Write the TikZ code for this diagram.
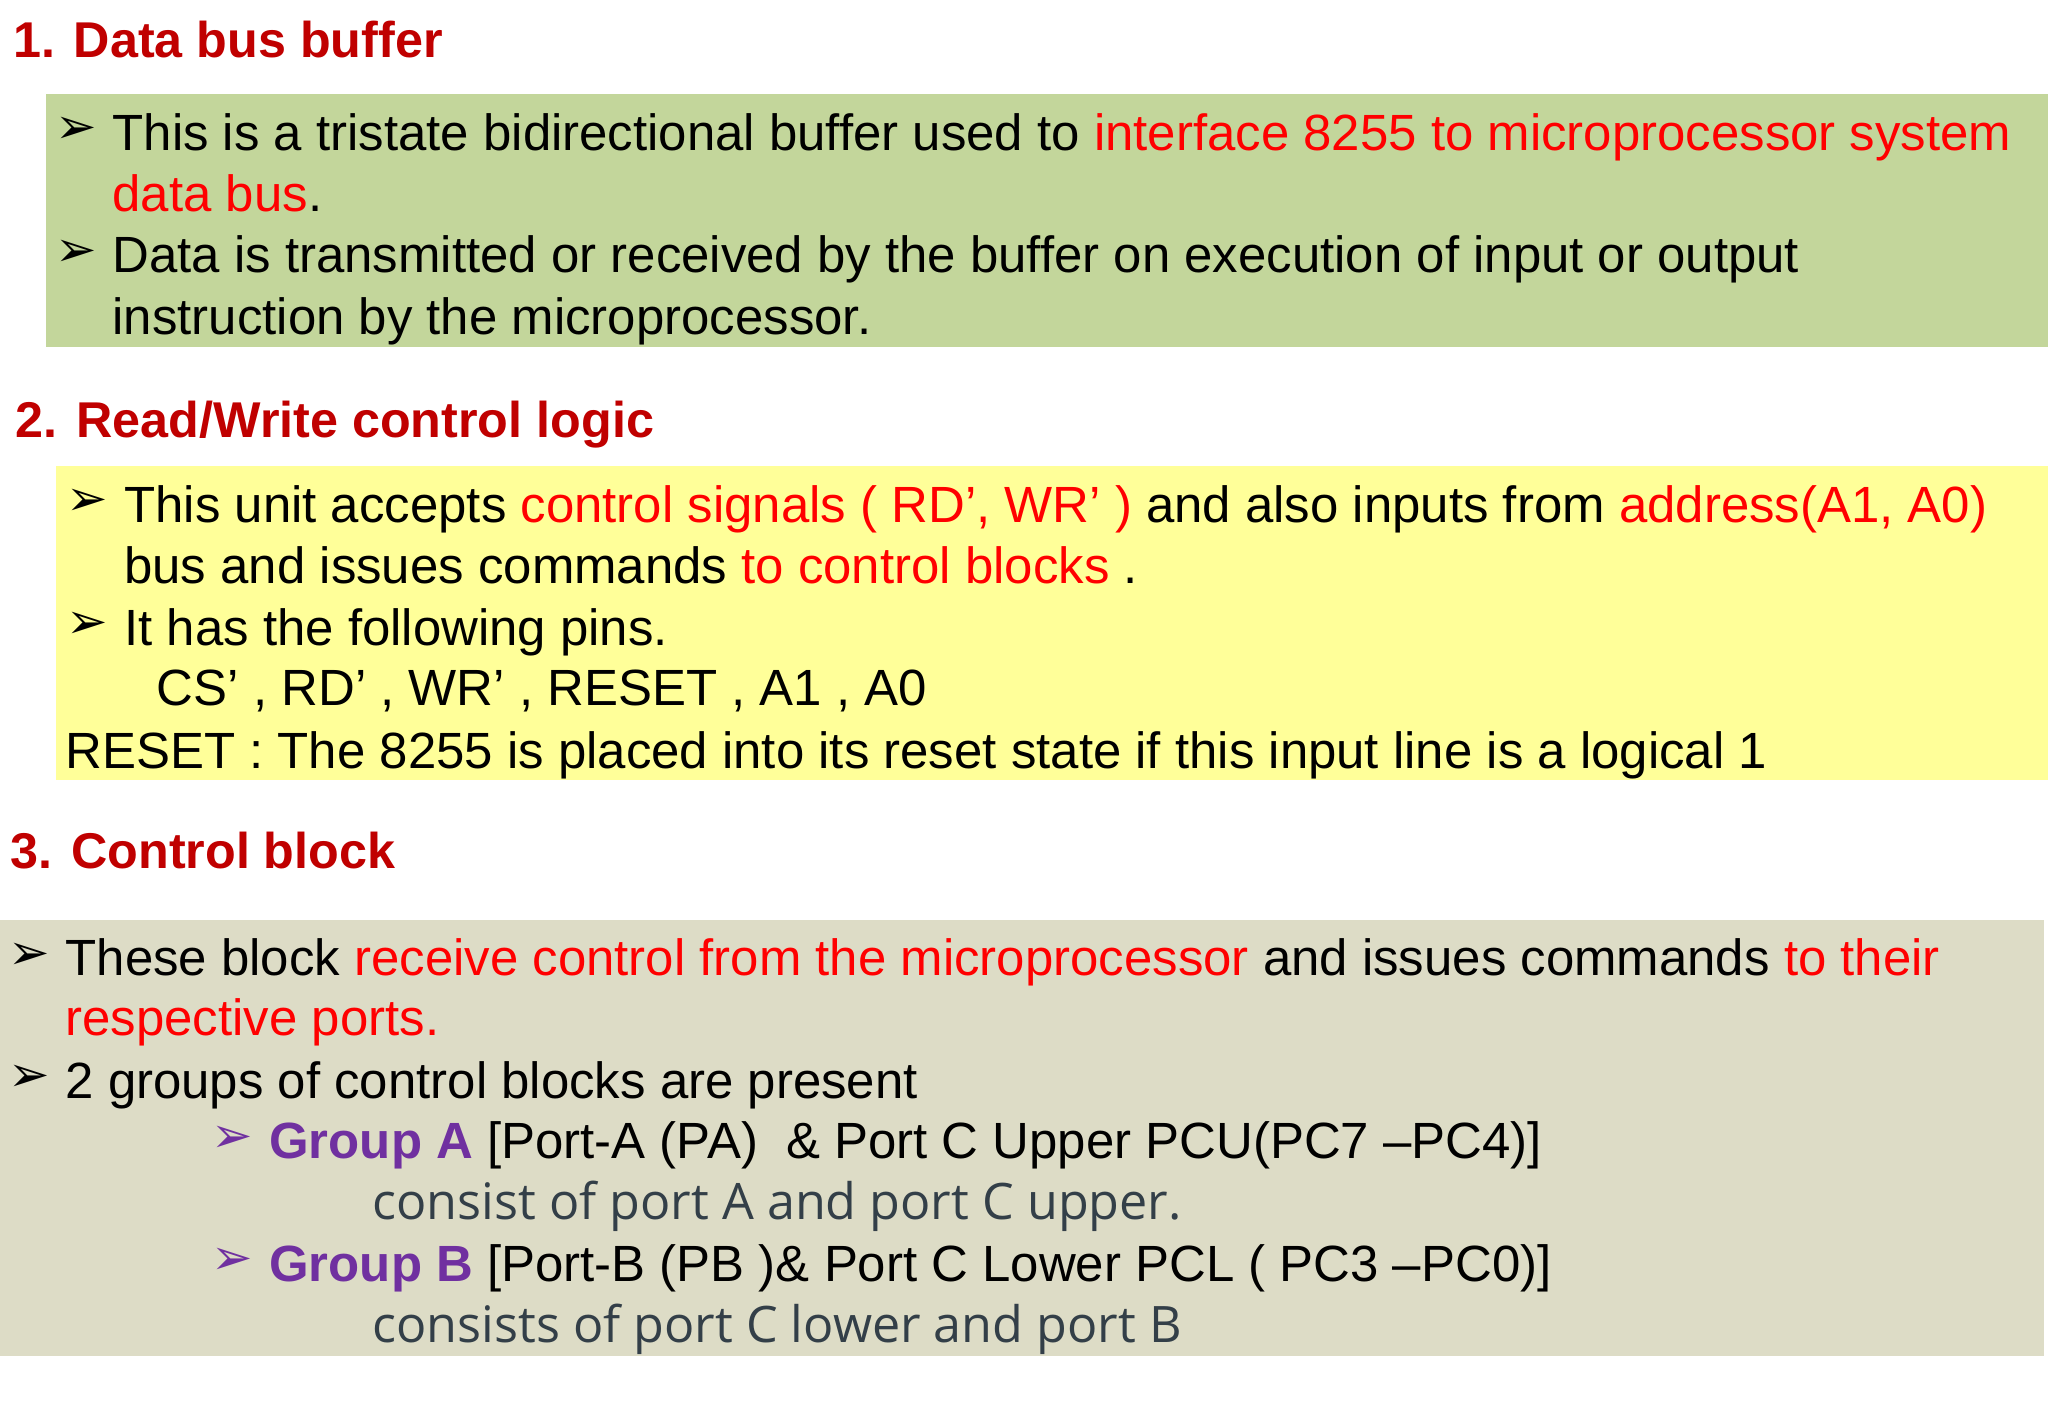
\documentclass[tikz,border=0pt]{standalone}
\usepackage{fontspec}
\setmainfont{Liberation Sans}
\newfontfamily\dejavu{DejaVu Sans}
\newfontfamily\opens{Open Sans}
\definecolor{hd}{HTML}{C00000}
\definecolor{rd}{HTML}{FF0000}
\definecolor{pu}{HTML}{7030A0}
\definecolor{gbox}{HTML}{C3D69B}
\definecolor{ybox}{HTML}{FFFF99}
\definecolor{bbox}{HTML}{DDDCC6}
\definecolor{gtx}{HTML}{333F48}
\tikzset{x=1pt,y=-1pt,
 tx/.style={anchor=base west,inner sep=0pt,font=\fontsize{39}{44}\selectfont},
 hdg/.style={anchor=base west,inner sep=0pt,font=\fontsize{38.5}{44}\selectfont\bfseries,text=hd},
 bul/.style={anchor=base west,inner sep=0pt,font=\fontsize{38}{40}\selectfont\dejavu}}
\begin{document}
\begin{tikzpicture}
\useasboundingbox[fill=white] (0,0) rectangle (1568,1083);
\fill[gbox] (35,72) rectangle (1568,266);
\fill[ybox] (43,357) rectangle (1568,597);
\fill[bbox] (0,704) rectangle (1565,1038);
\node[hdg] (h1) at (10,44) {1. Data bus buffer};
\node[bul] (b1) at (42,110) {➢};
\node[tx] (t1) at (86,115) {This is a tristate bidirectional buffer used to \textcolor{rd}{interface 8255 to microprocessor system}};
\node[tx] (t2) at (86,162) {\textcolor{rd}{data bus}.};
\node[bul] (b2) at (42,204) {➢};
\node[tx] (t3) at (86,209) {Data is transmitted or received by the buffer on execution of input or output};
\node[tx] (t4) at (86,256) {instruction by the microprocessor.};
\node[hdg] (h2) at (12,335) {2. Read/Write control logic};
\node[bul] (b3) at (51,395) {➢};
\node[tx] (t5) at (95,400) {This unit accepts \textcolor{rd}{control signals ( RD’, WR’ )} and also inputs from \textcolor{rd}{address(A1, A0)}};
\node[tx] (t6) at (95,447) {bus and issues commands \textcolor{rd}{to control blocks} .};
\node[bul] (b4) at (51,489) {➢};
\node[tx] (t7) at (95,494) {It has the following pins.};
\node[tx] (t8) at (120,540) {CS’ , RD’ , WR’ , RESET , A1 , A0};
\node[tx] (t9) at (50,588) {RESET : The 8255 is placed into its reset state if this input line is a logical 1};
\node[hdg] (h3) at (8,665) {3. Control block};
\node[bul] (b5) at (6,742) {➢};
\node[tx] (t10) at (50,747) {These block \textcolor{rd}{receive control from the microprocessor} and issues commands \textcolor{rd}{to their}};
\node[tx] (t11) at (50,793) {\textcolor{rd}{respective ports.}};
\node[bul] (b6) at (6,836) {➢};
\node[tx] (t12) at (50,841) {2 groups of control blocks are present};
\node[bul,text=pu] (b7) at (162,882) {➢};
\node[tx] (t13) at (206,887) {\textcolor{pu}{\bfseries Group A} [Port-A (PA)\ \ \& Port C Upper PCU(PC7 –PC4)]};
\node[tx,font=\fontsize{38.5}{44}\selectfont\opens,text=gtx] (t14) at (285,934) {consist of port A and port C upper.};
\node[bul,text=pu] (b8) at (162,976) {➢};
\node[tx] (t15) at (206,981) {\textcolor{pu}{\bfseries Group B} [Port-B (PB )\& Port C Lower PCL ( PC3 –PC0)]};
\node[tx,font=\fontsize{38.5}{44}\selectfont\opens,text=gtx] (t16) at (285,1028) {consists of port C lower and port B};
\end{tikzpicture}
\end{document}
